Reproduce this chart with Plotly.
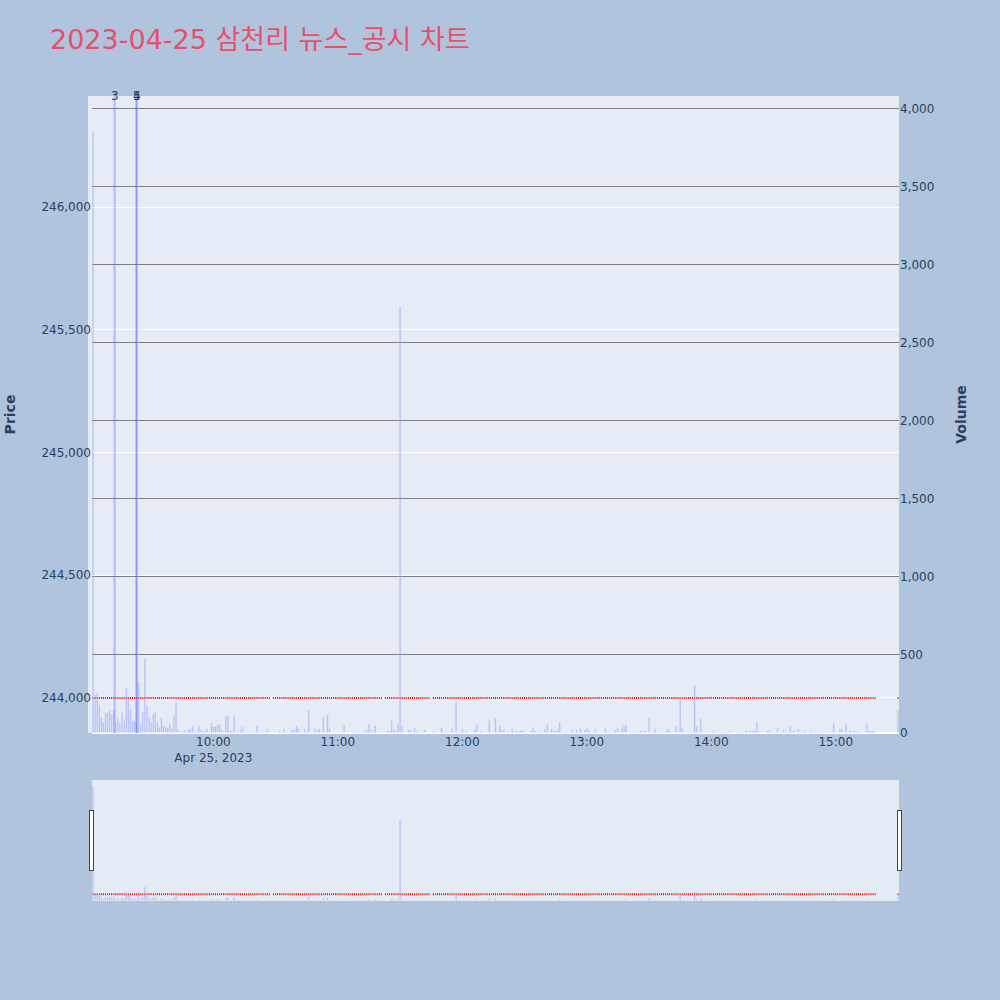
import pandas as pd
import plotly.graph_objects as go

# 1-minute bars, 09:02 ~ 15:30 (None = no trade in that minute)
times = pd.date_range('2023-04-25 09:02', '2023-04-25 15:30', freq='min')

volume = [
    3850, 247, 258, 180, 100, 69, 129, 130, 144, 118,
    150, 69, 92, 69, 129, 82, 290, 232, 150, 77,
    80, 62, 322, 58, 133, 475, 178, 97, 71, 123,
    133, 69, 37, 97, 47, 39, 32, 62, 28, 112,
    200, 22, 4, 11, 19, 6, 24, 26, 47, 9,
    6, 47, 19, 11, 17, 26, 6, 64, 43, 43,
    52, 58, 22, 6, 107, 112, 15, 11, 116, 6,
    6, 22, 39, 6, 6, 6, 6, 6, 6, 47,
    6, 4, 6, 3, 22, 6, None, 3, 6, 3,
    15, 6, 28, 6, 6, 6, 22, 15, 47, 28,
    3, 6, 26, 6, 146, 3, 6, 28, 15,
    28, 3, 101, 6, 116, 32, 3, 3, 3, 3,
    3, 6, 47, 3, 0, 3, 6, 11, 6, 6,
    6, 6, 15, 22, 60, 22, 6, 47, 3, 3,
    6, None, 3, 15, 15, 80, 22, 15, 64, 2733,
    47, 4, 4, 22, 22, 4, 30, 15, 6, 3,
    6, 22, 3, 3, None, 11, 3, 6, 3, 37,
    6, 6, 6, 6, 28, 3, 200, 6, 3, 22,
    3, 15, 3, 6, 3, 22, 58, 3, 15, 6,
    3, 3, 80, 6, 3, 92, 6, 47, 22, 15,
    6, 8, 3, 26, 8, 15, 8, 15, 17, 6,
    3, 3, 15, 37, 15, 3, 6, 11, 6, 28,
    54, 6, 28, 15, 15, 22, 69, 3, 6, 6,
    6, 3, 24, 6, 24, 6, 28, 6, 17, 30,
    19, 6, 6, 24, 6, 3, 6, 3, 28, 6,
    3, 6, 6, 22, 32, 6, 32, 47, 54, 3,
    6, 6, 6, 3, 6, 15, 6, 15, 6,
    97, 6, 6, 28, 6, 6, 3, 3, 6, 28,
    15, 3, 15, 41, 6, 230, 37, 6, 3, 6,
    6, 6, 307, 43, 3, 92, 6, 3, 3, 3,
    3, 15, 6, 3, 6, 6, 6, 3, 6, 15,
    6, 3, 3, 3, 6, 6, 3, 15, 6, 15,
    15, 15, 71, 6, 3, 3, 3, 15, 15, 6,
    6, 6, 32, 6, 6, 22, 6, 6, 43, 15,
    15, 6, 26, 6, 3, 15, 6, 6, 15, 6,
    6, 6, 3, 3, 6, 3, 3, 3, 3, 60,
    6, 3, 28, 28, 3, 60, 6, 15, 3, 11,
    11, 11, 3, 6, 6, 64, 15, 15, 15, 3,
    None, None, None, None, None, None, None, None, None, None,
    144,
]

price_level = 244000  # price did not move all day

news_times = ['2023-04-25 09:12:25', '2023-04-25 09:23:00', '2023-04-25 09:23:00']
news_labels = ['3', '4', '5']

df = pd.DataFrame({'time': times, 'volume': volume})
df = df.dropna()
df['price'] = price_level

fig = go.Figure()

fig.add_trace(go.Candlestick(
    x=df['time'], open=df['price'], high=df['price'], low=df['price'], close=df['price'],
    increasing_line_color='red', decreasing_line_color='blue',
    name='Price'
))

fig.add_trace(go.Bar(
    x=df['time'], y=df['volume'], yaxis='y2',
    marker_color='#636efa', opacity=0.4, name='Volume'
))

for t, label in zip(news_times, news_labels):
    fig.add_shape(type='line', x0=t, x1=t, xref='x', y0=0, y1=1.005, yref='paper',
                  line=dict(color='rgba(99,110,250,0.4)', width=2))
    fig.add_annotation(x=t, y=1, xref='x', yref='paper', text=label, showarrow=False,
                       yanchor='middle', font=dict(size=12, color='#2a3f5f'))

# thin strip of plot background left of the axis
fig.add_shape(type='rect', xref='paper', yref='paper', x0=-4 / 807, x1=0, y0=0, y1=1,
              fillcolor='#E5ECF6', line_width=0, layer='below')

fig.update_layout(
    title=dict(text='2023-04-25 삼천리 뉴스_공시 차트', x=0.05, xanchor='left', y=0.96, yanchor='middle',
               font=dict(size=27, color='#E8506A')),
    font=dict(family='DejaVu Sans, Noto Sans CJK KR, sans-serif', size=12),
    width=1000, height=1000,
    paper_bgcolor='#B0C4DE',
    showlegend=False,
    margin=dict(l=92, r=101, t=96, b=100),
    xaxis=dict(rangeslider=dict(visible=True)),
    yaxis=dict(title=dict(text='<b>Price</b>', standoff=22), automargin=False,
               range=[243857, 246453], tickformat=','),
    yaxis2=dict(title=dict(text='<b>Volume</b>', standoff=22), overlaying='y', side='right', range=[0, 4080],
                tickformat=',', gridcolor='gray'),
)

fig.write_html('out.html', config={'displayModeBar': False},
               post_script="document.body.style.margin='0';")
